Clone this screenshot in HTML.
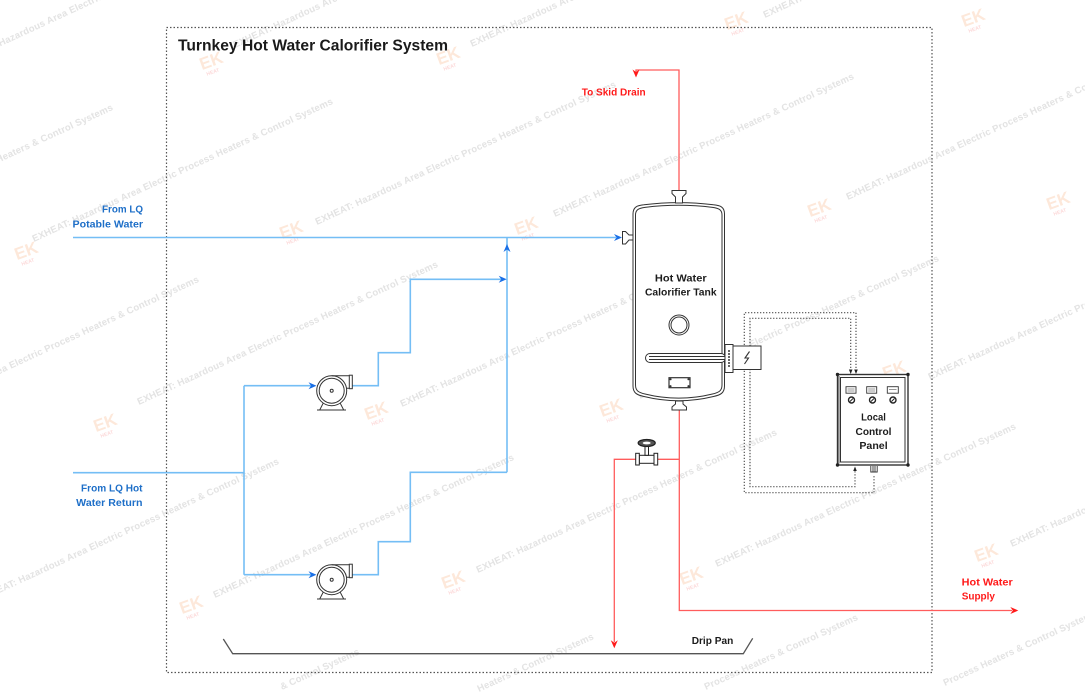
<!DOCTYPE html>
<html><head><meta charset="utf-8"><style>
html,body{margin:0;padding:0;background:#fff;width:1085px;height:700px;overflow:hidden;}
svg{display:block;overflow:hidden;}
text{font-family:"Liberation Sans",Arial,sans-serif;font-weight:bold;}
</style></head><body>
<svg width="1085" height="700" viewBox="0 0 1085 700" xmlns="http://www.w3.org/2000/svg">
<rect width="1085" height="700" fill="#fff"/>

<!-- watermark text -->
<g fill="#e3e3e3" font-size="9.5">
<text transform="translate(-40,65) rotate(-24.8)" textLength="330">EXHEAT: Hazardous Area Electric Process Heaters &amp; Control Systems</text>
<text transform="translate(235,48) rotate(-24.8)" textLength="330">EXHEAT: Hazardous Area Electric Process Heaters &amp; Control Systems</text>
<text transform="translate(472,47) rotate(-24.8)" textLength="330">EXHEAT: Hazardous Area Electric Process Heaters &amp; Control Systems</text>
<text transform="translate(765,18) rotate(-24.8)" textLength="330">EXHEAT: Hazardous Area Electric Process Heaters &amp; Control Systems</text>
<text transform="translate(-186,248) rotate(-24.8)" textLength="330">EXHEAT: Hazardous Area Electric Process Heaters &amp; Control Systems</text>
<text transform="translate(34,242) rotate(-24.8)" textLength="330">EXHEAT: Hazardous Area Electric Process Heaters &amp; Control Systems</text>
<text transform="translate(317,225) rotate(-24.8)" textLength="330">EXHEAT: Hazardous Area Electric Process Heaters &amp; Control Systems</text>
<text transform="translate(555,217) rotate(-24.8)" textLength="330">EXHEAT: Hazardous Area Electric Process Heaters &amp; Control Systems</text>
<text transform="translate(848,200) rotate(-24.8)" textLength="330">EXHEAT: Hazardous Area Electric Process Heaters &amp; Control Systems</text>
<text transform="translate(-100,420) rotate(-24.8)" textLength="330">EXHEAT: Hazardous Area Electric Process Heaters &amp; Control Systems</text>
<text transform="translate(139,405) rotate(-24.8)" textLength="330">EXHEAT: Hazardous Area Electric Process Heaters &amp; Control Systems</text>
<text transform="translate(402,407) rotate(-24.8)" textLength="330">EXHEAT: Hazardous Area Electric Process Heaters &amp; Control Systems</text>
<text transform="translate(640,399) rotate(-24.8)" textLength="330">EXHEAT: Hazardous Area Electric Process Heaters &amp; Control Systems</text>
<text transform="translate(930,380) rotate(-24.8)" textLength="330">EXHEAT: Hazardous Area Electric Process Heaters &amp; Control Systems</text>
<text transform="translate(-20,602) rotate(-24.8)" textLength="330">EXHEAT: Hazardous Area Electric Process Heaters &amp; Control Systems</text>
<text transform="translate(215,598) rotate(-24.8)" textLength="330">EXHEAT: Hazardous Area Electric Process Heaters &amp; Control Systems</text>
<text transform="translate(478,573) rotate(-24.8)" textLength="330">EXHEAT: Hazardous Area Electric Process Heaters &amp; Control Systems</text>
<text transform="translate(717,567) rotate(-24.8)" textLength="330">EXHEAT: Hazardous Area Electric Process Heaters &amp; Control Systems</text>
<text transform="translate(1012,547) rotate(-24.8)" textLength="330">EXHEAT: Hazardous Area Electric Process Heaters &amp; Control Systems</text>
<text transform="translate(282,690) rotate(-24.8)" textLength="86">&amp; Control Systems</text>
<text transform="translate(479,692) rotate(-24.8)" textLength="127">Heaters &amp; Control Systems</text>
<text transform="translate(706,690) rotate(-24.8)" textLength="168">Process Heaters &amp; Control Systems</text>
<text transform="translate(945,686) rotate(-24.8)" textLength="168">Process Heaters &amp; Control Systems</text>
</g>

<!-- watermark logos -->
<g>
<g transform="translate(210,63) rotate(-20)"><text x="-10" y="4" font-size="17" fill="#fde8da">EK</text><text x="-7" y="11" font-size="5" fill="#fcd9d9">HEAT</text></g>
<g transform="translate(447,58) rotate(-20)"><text x="-10" y="4" font-size="17" fill="#fde8da">EK</text><text x="-7" y="11" font-size="5" fill="#fcd9d9">HEAT</text></g>
<g transform="translate(735,23) rotate(-20)"><text x="-10" y="4" font-size="17" fill="#fde8da">EK</text><text x="-7" y="11" font-size="5" fill="#fcd9d9">HEAT</text></g>
<g transform="translate(972,20) rotate(-20)"><text x="-10" y="4" font-size="17" fill="#fde8da">EK</text><text x="-7" y="11" font-size="5" fill="#fcd9d9">HEAT</text></g>
<g transform="translate(290,232) rotate(-20)"><text x="-10" y="4" font-size="17" fill="#fde8da">EK</text><text x="-7" y="11" font-size="5" fill="#fcd9d9">HEAT</text></g>
<g transform="translate(525,228) rotate(-20)"><text x="-10" y="4" font-size="17" fill="#fde8da">EK</text><text x="-7" y="11" font-size="5" fill="#fcd9d9">HEAT</text></g>
<g transform="translate(818,210) rotate(-20)"><text x="-10" y="4" font-size="17" fill="#fde8da">EK</text><text x="-7" y="11" font-size="5" fill="#fcd9d9">HEAT</text></g>
<g transform="translate(1057,203) rotate(-20)"><text x="-10" y="4" font-size="17" fill="#fde8da">EK</text><text x="-7" y="11" font-size="5" fill="#fcd9d9">HEAT</text></g>
<g transform="translate(25,253) rotate(-20)"><text x="-10" y="4" font-size="17" fill="#fde8da">EK</text><text x="-7" y="11" font-size="5" fill="#fcd9d9">HEAT</text></g>
<g transform="translate(104,425) rotate(-20)"><text x="-10" y="4" font-size="17" fill="#fde8da">EK</text><text x="-7" y="11" font-size="5" fill="#fcd9d9">HEAT</text></g>
<g transform="translate(375,413) rotate(-20)"><text x="-10" y="4" font-size="17" fill="#fde8da">EK</text><text x="-7" y="11" font-size="5" fill="#fcd9d9">HEAT</text></g>
<g transform="translate(610,410) rotate(-20)"><text x="-10" y="4" font-size="17" fill="#fde8da">EK</text><text x="-7" y="11" font-size="5" fill="#fcd9d9">HEAT</text></g>
<g transform="translate(893,372) rotate(-20)"><text x="-10" y="4" font-size="17" fill="#fde8da">EK</text><text x="-7" y="11" font-size="5" fill="#fcd9d9">HEAT</text></g>
<g transform="translate(190,607) rotate(-20)"><text x="-10" y="4" font-size="17" fill="#fde8da">EK</text><text x="-7" y="11" font-size="5" fill="#fcd9d9">HEAT</text></g>
<g transform="translate(452,582) rotate(-20)"><text x="-10" y="4" font-size="17" fill="#fde8da">EK</text><text x="-7" y="11" font-size="5" fill="#fcd9d9">HEAT</text></g>
<g transform="translate(690,578) rotate(-20)"><text x="-10" y="4" font-size="17" fill="#fde8da">EK</text><text x="-7" y="11" font-size="5" fill="#fcd9d9">HEAT</text></g>
<g transform="translate(985,555) rotate(-20)"><text x="-10" y="4" font-size="17" fill="#fde8da">EK</text><text x="-7" y="11" font-size="5" fill="#fcd9d9">HEAT</text></g>
</g>

<!-- outer dashed boundary -->
<rect x="166.5" y="27.5" width="765.5" height="645" fill="none" stroke="#555" stroke-width="1.2" stroke-dasharray="1.5 2"/>

<!-- title -->
<text x="178" y="50.7" font-size="15.5" fill="#1a1a1a" textLength="270" lengthAdjust="spacingAndGlyphs">Turnkey Hot Water Calorifier System</text>

<!-- blue labels -->
<g fill="#1e6fc8" font-size="10.5" text-anchor="end">
<text x="143" y="212.7" textLength="41" lengthAdjust="spacingAndGlyphs">From LQ</text>
<text x="143" y="227.3" textLength="70.5" lengthAdjust="spacingAndGlyphs">Potable Water</text>
<text x="142.5" y="491.7" textLength="61.5" lengthAdjust="spacingAndGlyphs">From LQ Hot</text>
<text x="142.5" y="506" textLength="66.3" lengthAdjust="spacingAndGlyphs">Water Return</text>
</g>

<!-- blue piping -->
<g fill="none" stroke="#74bef5" stroke-width="1.6">
<path d="M73,237.5 H616"/>
<path d="M73,472.7 H244"/>
<path d="M244,385.7 V574.7"/>
<path d="M244,385.7 H311"/>
<path d="M244,574.7 H311"/>
<path d="M352.3,385.7 H378.3 V352.7 H410.3 V279.3 H502"/>
<path d="M507,472.3 V237.5"/>
<path d="M352.3,574.7 H378.3 V541.7 H410.3 V472.3 H507"/>
</g>
<g fill="#1a6fe6">
<polygon points="622,237.5 614,234 616.5,237.5 614,241"/>
<polygon points="316.5,385.7 308.5,382.2 311,385.7 308.5,389.2"/>
<polygon points="316.5,574.7 308.5,571.2 311,574.7 308.5,578.2"/>
<polygon points="506.7,279.3 498.7,275.8 501.2,279.3 498.7,282.8"/>
<polygon points="507,244 503.5,252 507,249.5 510.5,252"/>
</g>

<!-- pumps -->
<g stroke="#333" stroke-width="1" fill="none">
<g transform="translate(331.7,390.7)">
<path d="M-8,11.5 L-12,19.3 M8,11.5 L12,19.3 M-14.7,19.3 H14.3"/>
<circle r="15" fill="#fff"/>
<circle r="12.5"/>
<circle r="1.5"/>
<path d="M0,-15 H17.6 M14.8,-2.4 H17.6"/>
<rect x="17.6" y="-15.5" width="3" height="13.5" fill="#fff"/>
</g>
<g transform="translate(331.7,579.7)">
<path d="M-8,11.5 L-12,19.3 M8,11.5 L12,19.3 M-14.7,19.3 H14.3"/>
<circle r="15" fill="#fff"/>
<circle r="12.5"/>
<circle r="1.5"/>
<path d="M0,-15 H17.6 M14.8,-2.4 H17.6"/>
<rect x="17.6" y="-15.5" width="3" height="13.5" fill="#fff"/>
</g>
</g>

<!-- red piping -->
<g fill="none" stroke="#ff5c5c" stroke-width="1.3">
<path d="M679,190.5 V70 H636 V72"/>
<path d="M679.3,410 V610.5 H1012"/>
<path d="M679.3,459.3 H657.7"/>
<path d="M635.7,459.3 H614.3 V642"/>
</g>
<g fill="#ff1a1a">
<polygon points="636,77.5 632.5,69.5 636,72 639.5,69.5"/>
<polygon points="1018.3,610.5 1010.3,607 1012.8,610.5 1010.3,614"/>
<polygon points="614.3,648.3 610.8,640.3 614.3,642.8 617.8,640.3"/>
</g>
<g fill="#ff1a1a" font-size="10.5">
<text x="581.7" y="95.5" textLength="64" lengthAdjust="spacingAndGlyphs">To Skid Drain</text>
<text x="961.7" y="585.7" textLength="51" lengthAdjust="spacingAndGlyphs">Hot Water</text>
<text x="961.7" y="599.3" textLength="33.3" lengthAdjust="spacingAndGlyphs">Supply</text>
</g>

<!-- dotted cables -->
<g fill="none" stroke="#555" stroke-width="1.2" stroke-dasharray="1.3 1.7">
<path d="M856,371 V312.7 H744.3 V492.7 H874 V475"/>
<path d="M850.7,371 V318.3 H750 V486.7 H855 V471"/>
</g>

<!-- tank -->
<g stroke="#333" stroke-width="1" fill="#fff">
<path d="M633,214 C633,207 637,205.5 644,204.8 Q678.7,200.5 713.5,204.8 C720.5,205.5 724.5,207 724.5,214 L724.5,386 C724.5,393 720.5,395 713.5,396.5 Q678.7,405 644,396.5 C637,395 633,393 633,386 Z"/>
<path fill="none" d="M635.5,215 C635.5,209.5 639,208.2 645,207.4 Q678.7,203.2 712.5,207.4 C718.5,208.2 722,209.5 722,215 L722,385 C722,391 718.5,392.6 712.5,394 Q678.7,402.3 645,394 C639,392.6 635.5,391 635.5,385 Z"/>
<path d="M672,190.5 H686 V193.5 L682.5,197 V203 H675.5 V197 L672,193.5 Z"/>
<path d="M675.5,401 H683 V404 L686.5,407 V410 H672 V407 L675.5,404 Z"/>
<path d="M622.5,231.5 H625.5 L629,235 H633 V240 H629 L625.5,244 H622.5 Z"/>
<circle cx="679" cy="325" r="10"/>
<circle cx="679" cy="325" r="8" fill="none"/>
<rect x="645.5" y="353.5" width="80" height="9" rx="4.5"/>
<path d="M649,356.5 H725 M649,359.5 H725" fill="none"/>
<rect x="725" y="344.5" width="8" height="28"/>
<path d="M729,350 V367" fill="none" stroke-width="1.5" stroke-dasharray="2 1"/>
<rect x="733" y="346" width="28" height="23.5"/>
<path d="M749.5,351.5 L745,358 L748.5,358 L744.5,364" fill="none" stroke-width="1.1"/>
<rect x="669" y="377.7" width="21" height="10" stroke-width="1.2"/>
<circle cx="670.5" cy="379.2" r="0.6" fill="#333"/>
<circle cx="688.5" cy="379.2" r="0.6" fill="#333"/>
<circle cx="670.5" cy="386.2" r="0.6" fill="#333"/>
<circle cx="688.5" cy="386.2" r="0.6" fill="#333"/>
</g>
<g fill="#1c1c1c" font-size="10.5" text-anchor="middle">
<text x="680.8" y="281.7" textLength="51.7" lengthAdjust="spacingAndGlyphs">Hot Water</text>
<text x="680.8" y="295.7" textLength="71.7" lengthAdjust="spacingAndGlyphs">Calorifier Tank</text>
</g>

<!-- valve -->
<g stroke="#222" stroke-width="1" fill="#fff">
<rect x="639.3" y="455.3" width="14.7" height="8"/>
<rect x="635.7" y="453.3" width="3.6" height="11.7"/>
<rect x="654" y="453.3" width="3.7" height="11.7"/>
<rect x="645" y="446.5" width="3.5" height="8.8"/>
<ellipse cx="646.7" cy="443" rx="8.5" ry="3.5" fill="#555" stroke-width="1.3"/>
<ellipse cx="646.7" cy="443" rx="4" ry="1.4" fill="#fff" stroke="none"/>
</g>

<!-- control panel -->
<g stroke="#333" fill="#fff">
<rect x="837.5" y="374.5" width="70.5" height="90.5" stroke-width="1.4"/>
<rect x="840.5" y="377.5" width="64.5" height="84.5" stroke-width="1" fill="none"/>
<path d="M839,376 V463.5" stroke-width="0.8" fill="none"/>
</g>
<g fill="#222">
<circle cx="837.5" cy="374.5" r="1.7"/>
<circle cx="908" cy="374.5" r="1.7"/>
<circle cx="837.5" cy="465" r="1.7"/>
<circle cx="908" cy="465" r="1.7"/>
<polygon points="848.9,369.5 852.5,369.5 850.7,374"/>
<polygon points="854.2,369.5 857.8,369.5 856,374"/>
<polygon points="853.2,471 856.8,471 855,466.5"/>
</g>
<g stroke="#333" fill="none" stroke-width="0.9">
<path d="M870.8,466 V472 H877.2 V466 M873,466 V472 M875,466 V472"/>
<rect x="846" y="386.7" width="10" height="6.5" fill="#fff"/>
<rect x="866.7" y="386.7" width="10" height="6.5" fill="#fff"/>
<rect x="887.3" y="386.7" width="11" height="6.5" fill="#fff"/>
<path d="M847.5,389 H854.5 M847.5,391 H854.5 M868.2,389 H875.2 M868.2,391 H875.2 M889,389.5 H896.5" stroke-width="0.7" stroke="#777"/>
<circle cx="851.5" cy="400" r="3" stroke-width="1.4" stroke="#222"/>
<circle cx="872.5" cy="400" r="3" stroke-width="1.4" stroke="#222"/>
<circle cx="893" cy="400" r="3" stroke-width="1.4" stroke="#222"/>
<path d="M850,401.5 L853,398.5 M871,401.5 L874,398.5 M891.5,401.5 L894.5,398.5" stroke="#222" stroke-width="1"/>
</g>
<g fill="#1c1c1c" font-size="10.5" text-anchor="middle">
<text x="873.5" y="420.7" textLength="24.7" lengthAdjust="spacingAndGlyphs">Local</text>
<text x="873.5" y="435" textLength="36" lengthAdjust="spacingAndGlyphs">Control</text>
<text x="873.5" y="449" textLength="28.3" lengthAdjust="spacingAndGlyphs">Panel</text>
</g>

<!-- drip pan -->
<path d="M223.3,639 L232.7,653.7 H743.3 L752.7,638.3" fill="none" stroke="#555" stroke-width="1.3"/>
<text x="691.7" y="644" font-size="10.5" fill="#1c1c1c" textLength="41.6" lengthAdjust="spacingAndGlyphs">Drip Pan</text>
</svg>
</body></html>
